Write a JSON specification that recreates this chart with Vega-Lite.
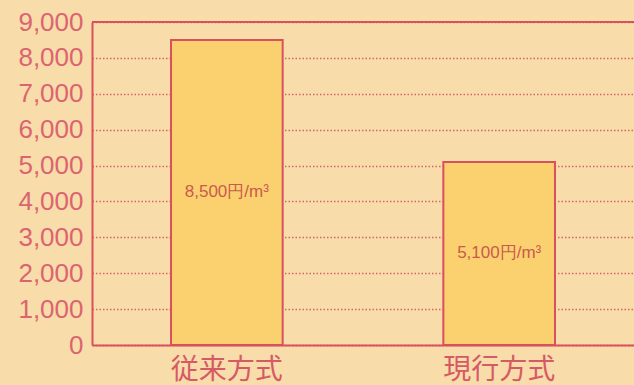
{
  "$schema": "https://vega.github.io/schema/vega-lite/v6.json",
  "width": 542,
  "height": 323,
  "autosize": "none",
  "padding": {"left": 92, "top": 22, "right": 0, "bottom": 40},
  "background": "#f8dcaa",
  "config": {
    "view": {"stroke": null},
    "axisY": {
      "title": null,
      "format": ",d",
      "labelOverlap": false,
      "labelBound": false,
      "ticks": false,
      "domainColor": "#d9505e",
      "domainWidth": 2,
      "labelFont": "Liberation Sans",
      "labelFontSize": 26,
      "labelColor": "#dc6470",
      "labelPadding": 9,
      "grid": true,
      "gridColor": "#d8646a",
      "gridDash": [1.5, 2],
      "gridWidth": 1.5
    }
  },
  "data": {
    "values": [
      {"method": "従来方式", "cost": 8500, "label": "8,500円/m³"},
      {"method": "現行方式", "cost": 5100, "label": "5,100円/m³"}
    ]
  },
  "encoding": {
    "x": {
      "field": "method",
      "type": "nominal",
      "sort": null,
      "scale": {"paddingInner": 0.59, "paddingOuter": 0.29},
      "axis": {
        "title": null,
        "labelAngle": 0,
        "ticks": false,
        "domainColor": "#d9505e",
        "domainWidth": 2,
        "labelFont": "Noto Sans CJK JP",
        "labelFontSize": 28,
        "labelColor": "#d65a66",
        "labelPadding": 11
      }
    }
  },
  "layer": [
    {
      "mark": {"type": "bar", "fill": "#fbd170", "stroke": "#d9505e", "strokeWidth": 2},
      "encoding": {
        "y": {
          "field": "cost",
          "type": "quantitative",
          "scale": {"domain": [0, 9000], "nice": false},
          "axis": {"values": [0, 1000, 2000, 3000, 4000, 5000, 6000, 7000, 8000, 9000]}
        }
      }
    },
    {
      "data": {"values": [{"top": 9000}]},
      "mark": {"type": "rule", "color": "#d9505e", "strokeWidth": 2},
      "encoding": {
        "x": {"value": 0},
        "x2": {"value": 542},
        "y": {
          "field": "top",
          "type": "quantitative",
          "axis": {"values": [0, 1000, 2000, 3000, 4000, 5000, 6000, 7000, 8000, 9000]}
        }
      }
    },
    {
      "transform": [{"calculate": "datum.cost / 2", "as": "mid"}],
      "mark": {"type": "text", "font": "Liberation Sans", "fontSize": 17, "color": "#c95a4e"},
      "encoding": {
        "y": {
          "field": "mid",
          "type": "quantitative",
          "axis": {"values": [0, 1000, 2000, 3000, 4000, 5000, 6000, 7000, 8000, 9000]}
        },
        "text": {"field": "label"}
      }
    }
  ]
}
